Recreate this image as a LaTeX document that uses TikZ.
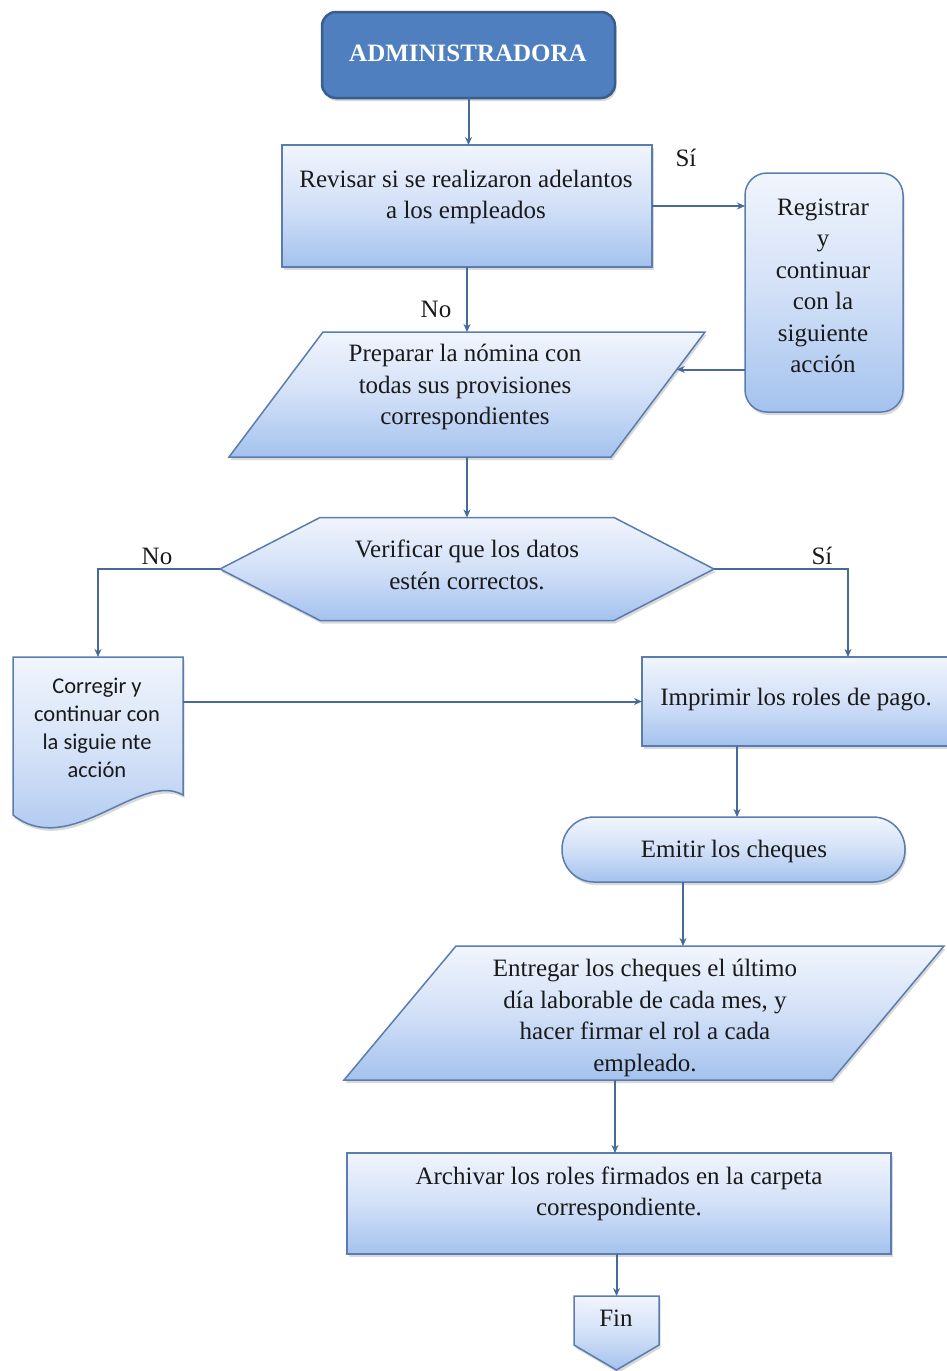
\documentclass[tikz,border=0pt]{standalone}
\usepackage{fontspec}
\setmainfont{Liberation Serif}
\newfontfamily\calibrifont{Carlito}
\usetikzlibrary{arrows.meta,shadows,calc}

\definecolor{boxtop}{HTML}{F1F5FD}
\definecolor{boxmid}{HTML}{D2E0F7}
\definecolor{boxbot}{HTML}{A4C2EE}
\definecolor{boxline}{HTML}{5A7CAE}
\definecolor{wirecol}{HTML}{486A98}
\definecolor{headfill}{HTML}{4F7FBF}
\definecolor{headline}{HTML}{3A5E8C}
\definecolor{ink}{HTML}{1A1A1A}

\begin{document}
\begin{tikzpicture}[x=1pt,y=-1pt,
  slot/.style={draw=none, rectangle, inner sep=0pt, outer sep=0pt},
  softshadow/.style={drop shadow={opacity=0.3, shadow xshift=1.5pt, shadow yshift=-3pt}},
  boxfill/.style={draw=boxline, line width=1.5pt, top color=boxtop, bottom color=boxbot, middle color=boxmid, softshadow},
  txt/.style={font=\fontsize{25}{31.5}\selectfont, text=ink, align=center, inner sep=0pt},
  lbl/.style={font=\fontsize{25}{30}\selectfont, text=ink, inner sep=0pt},
  link/.style={draw=wirecol, line width=2pt, -{Stealth[length=8pt,width=7pt]}}
]
\useasboundingbox (0,0) rectangle (947,1371);

% ---- shapes ----
\node[slot, rounded corners=14pt, draw=headline, line width=2.5pt, fill=headfill,
      minimum width=293pt, minimum height=86pt, softshadow] (admin) at (468.5,55) {};

\node[slot, boxfill, minimum width=370pt, minimum height=122pt] (revisar) at (467,206) {};

\node[slot, boxfill, rounded corners=22pt, minimum width=158pt, minimum height=239pt] (registrar) at (824,292.5) {};

\node[slot, minimum width=476pt, minimum height=125pt] (preparar) at (467,394.5) {};
\path[boxfill] ($(preparar.north west)+(94,0)$) -- (preparar.north east)
  -- ($(preparar.south east)+(-94,0)$) -- (preparar.south west) -- cycle;

\node[slot, minimum width=494pt, minimum height=103pt] (verificar) at (467,569) {};
\path[boxfill] (verificar.west) -- ($(verificar.north west)+(100,0)$)
  -- ($(verificar.north east)+(-100,0)$) -- (verificar.east)
  -- ($(verificar.south east)+(-100,0)$) -- ($(verificar.south west)+(100,0)$) -- cycle;

\node[slot, minimum width=170pt, minimum height=169pt] (corregir) at (98,741.5) {};
\path[boxfill] (corregir.north west) -- (corregir.north east)
  -- ($(corregir.north east)+(0,138)$)
  .. controls ($(corregir.north east)+(-43,113)$) and ($(corregir.north west)+(57,203)$)
  .. ($(corregir.north west)+(0,158)$) -- cycle;

\node[slot, boxfill, minimum width=308pt, minimum height=89pt] (imprimir) at (796,701.5) {};

\node[slot, boxfill, rounded corners=32pt, minimum width=343pt, minimum height=65pt] (emitir) at (733.5,849.5) {};

\node[slot, minimum width=600pt, minimum height=134pt] (entregar) at (644,1013) {};
\path[boxfill] ($(entregar.north west)+(112,0)$) -- (entregar.north east)
  -- ($(entregar.south east)+(-112,0)$) -- (entregar.south west) -- cycle;

\node[slot, boxfill, minimum width=544pt, minimum height=101pt] (archivar) at (619,1203.5) {};

\node[slot, minimum width=85pt, minimum height=74pt] (fin) at (616.5,1333) {};
\path[boxfill] (fin.north west) -- (fin.north east) -- ($(fin.north east)+(0,49)$)
  -- (fin.south) -- ($(fin.north west)+(0,49)$) -- cycle;

% ---- texts ----
\node[txt, text=white, font=\bfseries\fontsize{25}{30}\selectfont] (admin-t) at (468,53) {ADMINISTRADORA};
\node[txt] (revisar-t) at (466,197) {Revisar si se realizaron adelantos\\a los empleados};
\node[txt] (registrar-t) at (823,286) {Registrar\\y\\continuar\\con la\\siguiente\\acción};
\node[txt] (preparar-t) at (465,387) {Preparar la nómina con\\todas sus provisiones\\correspondientes};
\node[txt] (verificar-t) at (467,565) {Verificar que los datos\\estén correctos.};
\node[txt, font=\calibrifont\fontsize{22.5}{28}\selectfont] (corregir-t) at (97,728) {Corregir y\\continuar con\\la siguie nte\\acción};
\node[txt] (imprimir-t) at (796,700) {Imprimir los roles de pago.};
\node[txt] (emitir-t) at (734,851) {Emitir los cheques};
\node[txt] (entregar-t) at (645,1018) {Entregar los cheques el último\\día laborable de cada mes, y\\hacer firmar el rol a cada\\empleado.};
\node[txt] (archivar-t) at (619,1194) {Archivar los roles firmados en la carpeta\\correspondiente.};
\node[txt] (fin-t) at (616,1318) {Fin};

% ---- branch labels ----
\node[lbl] (si-a) at (686,158) {Sí};
\node[lbl] (no-a) at (436,309) {No};
\node[lbl] (no-b) at (157,556) {No};
\node[lbl] (si-b) at (822,556) {Sí};

% ---- connectors ----
\draw[link] (admin.south) -- (admin.south |- revisar.north);
\draw[link] (revisar.east) -- (revisar.east -| registrar.west);
\draw[link] (revisar.south) -- (preparar.north);
\coordinate (prep-in) at ($(preparar.north east)!0.3!($(preparar.south east)+(-94,0)$)$);
\draw[link] (registrar.west |- prep-in) -- (prep-in);
\draw[link] (preparar.south) -- (verificar.north);
\draw[link] (verificar.west) -| (corregir.north);
\draw[link] (verificar.east) -| ([xshift=52pt]imprimir.north);
\draw[link] (corregir.east |- imprimir.west) -- (imprimir.west);
\draw[link] ([xshift=-59pt]imprimir.south) -- ([xshift=-59pt]imprimir.south |- emitir.north);
\draw[link] ([xshift=-50.5pt]emitir.south) -- ([xshift=-50.5pt]emitir.south |- entregar.north);
\draw[link] ([xshift=-29pt]entregar.south) -- ([xshift=-29pt]entregar.south |- archivar.north);
\draw[link] (archivar.south -| fin.north) -- (fin.north);
\end{tikzpicture}
\end{document}
